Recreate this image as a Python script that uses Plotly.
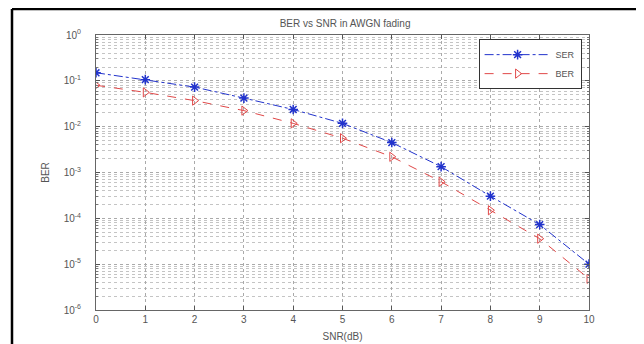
import plotly.graph_objects as go

snr = [0, 1, 2, 3, 4, 5, 6, 7, 8, 9, 10]
ser = [0.15, 0.106, 0.073, 0.042, 0.0237, 0.0118, 0.0045, 0.00134, 3.05e-4, 7.3e-5, 1.0e-5]
ber = [0.08, 0.056, 0.037, 0.0224, 0.0118, 0.0056, 0.0022, 6.3e-4, 1.5e-4, 3.6e-5, 4.8e-6]
y_exps = [0, -1, -2, -3, -4, -5, -6]
y_ticktext = ["10<sup>%d</sup>" % e for e in y_exps]

y_tickvals = [10.0 ** e for e in y_exps]
y_minor = [m * 10.0 ** e for e in range(-6, 0) for m in range(2, 10)]

fig = go.Figure()
fig.add_trace(go.Scatter(
    x=snr, y=ser, name="SER", mode="lines+markers",
    line=dict(color="#2233cc", width=1, dash="dashdot"),
    marker=dict(symbol="asterisk-open", size=8, color="#2233cc",
                line=dict(color="#2233cc", width=1.5)),
))
fig.add_trace(go.Scatter(
    x=snr, y=ber, name="BER", mode="lines+markers",
    line=dict(color="#e04848", width=1, dash="dash"),
    marker=dict(symbol="triangle-right-open", size=8, color="#e04848",
                line=dict(color="#e04848", width=1)),
))

font = dict(family="Liberation Sans, Arial, sans-serif", size=10, color="#555555")

# page has an 8px body margin; figure sized so the plot area lands where the reference has it
W, H = 636, 336
ML, MR, MT, MB = 88, 55, 27, 34
PW, PH = W - ML - MR, H - MT - MB

fig.update_layout(
    width=W, height=H,
    margin=dict(l=ML, r=MR, t=MT, b=MB),
    paper_bgcolor="white", plot_bgcolor="white",
    font=font,
    title=dict(text="BER vs SNR in AWGN fading", x=0.53, xanchor="center",
               y=1 - 15 / H, yanchor="middle",
               font=dict(family="Liberation Sans, Arial, sans-serif", size=10, color="#555555")),
    showlegend=True,
    legend=dict(x=0.985, xanchor="right", y=0.985, yanchor="top",
                bordercolor="#333333", borderwidth=1, bgcolor="white",
                font=dict(size=9, color="#555555"),
                tracegroupgap=0, itemwidth=66),
    shapes=[
        dict(type="line", xref="paper", yref="paper",
             x0=(4 - ML) / PW, x1=(4 - ML) / PW,
             y0=-0.3, y1=1 + (MT - 1) / PH,
             line=dict(color="black", width=2.5)),
        dict(type="line", xref="paper", yref="paper",
             x0=(4 - ML) / PW, x1=1.3,
             y0=1 + (MT - 1) / PH, y1=1 + (MT - 1) / PH,
             line=dict(color="black", width=2.5)),
    ],
)

fig.update_xaxes(
    range=[0, 10], tickmode="array", tickvals=snr, ticktext=[str(v) for v in snr],
    showgrid=True, gridcolor="#aaaaaa", griddash="dot", gridwidth=1,
    ticks="inside", ticklen=4, tickcolor="#555555",
    showline=True, linecolor="#666666", linewidth=1, mirror="allticks",
    zeroline=False, ticklabelstandoff=0, automargin=False,
    title=dict(text="SNR(dB)", standoff=8, font=dict(size=10, color="#555555")),
)
fig.update_yaxes(
    type="log", range=[-6, 0], tickmode="array", tickvals=y_tickvals, ticktext=y_ticktext,
    showgrid=True, gridcolor="#aaaaaa", griddash="dot", gridwidth=1,
    ticks="inside", ticklen=4, tickcolor="#555555",
    minor=dict(tickmode="array", tickvals=y_minor, showgrid=True,
               gridcolor="#c4c4c4", griddash="dot", gridwidth=1,
               ticks="inside", ticklen=2, tickcolor="#777777"),
    showline=True, linecolor="#666666", linewidth=1, mirror="allticks",
    zeroline=False, ticklabelstandoff=12, automargin=False,
    title=dict(text="BER", standoff=12, font=dict(size=10, color="#555555")),
)

fig.write_html("out.html")
